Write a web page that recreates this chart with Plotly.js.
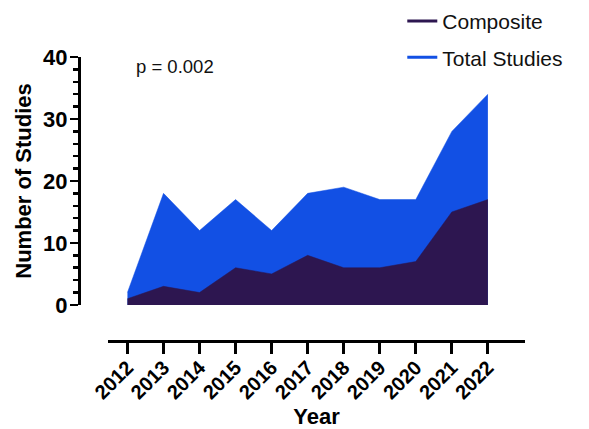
<!DOCTYPE html>
<html><head><meta charset="utf-8">
<script src="https://cdn.plot.ly/plotly-3.0.1.min.js"></script>
<style>html,body{margin:0;padding:0;background:#fff}#chart{width:589px;height:429px}</style>
</head><body><div id="chart"></div>
<script>
const years = [2012, 2013, 2014, 2015, 2016, 2017, 2018, 2019, 2020, 2021, 2022];
const totalStudies = [2, 18, 12, 17, 12, 18, 19, 17, 17, 28, 34];
const composite = [1, 3, 2, 6, 5, 8, 6, 6, 7, 15, 17];
const seriesNames = ['Composite', 'Total Studies'];
const yTicks = [0, 10, 20, 30, 40];

const blue = '#1250e4';
const purple = '#2d1650';
const FONT = 'Liberation Sans, Arial, Helvetica, sans-serif';

const traces = [
  {x: years, y: totalStudies, type: 'scatter', mode: 'lines', fill: 'tozeroy',
   fillcolor: blue, line: {color: blue, width: 0.5}, showlegend: false, hoverinfo: 'x+y'},
  {x: years, y: composite, type: 'scatter', mode: 'lines', fill: 'tozeroy',
   fillcolor: purple, line: {color: purple, width: 0.5}, showlegend: false, hoverinfo: 'x+y'},
  {x: [null], y: [null], type: 'scatter', mode: 'lines', name: seriesNames[0],
   line: {color: purple, width: 3}, legendgroup: 'a'},
  {x: [null], y: [null], type: 'scatter', mode: 'lines', name: seriesNames[1],
   line: {color: blue, width: 3}, legendgroup: 'b'}
];

const layout = {
  width: 589, height: 429,
  margin: {l: 79, r: 64, t: 57, b: 88, autoexpand: false},
  paper_bgcolor: '#fff', plot_bgcolor: 'rgba(0,0,0,0)',
  font: {family: FONT, color: '#000'},
  showlegend: true,
  legend: {xref: 'container', yref: 'container', x: 0.683, y: 0.998, xanchor: 'left', yanchor: 'top', tracegroupgap: 6,
           font: {family: FONT, size: 21, color: '#111'}, bgcolor: 'rgba(0,0,0,0)'},
  xaxis: {
    domain: [0.065, 1], range: [2011.46, 2023.03],
    anchor: 'free', position: 0,
    tickvals: years, ticktext: years.map(String), tickangle: -45,
    ticks: 'outside', ticklen: 11, tickwidth: 3, tickcolor: '#000',
    showline: true, linewidth: 3, linecolor: '#000', showgrid: false, zeroline: false,
    tickfont: {family: FONT, size: 20, color: '#000', weight: 'bold'},
    ticklabelstandoff: -6,
    title: {text: '<b>Year</b>', font: {family: FONT, size: 22, color: '#000'}, standoff: 29},
    automargin: false
  },
  yaxis: {
    domain: [0.127, 1], range: [0, 40],
    anchor: 'free', position: 0,
    tickvals: yTicks, ticks: 'outside', ticklen: 8, tickwidth: 2.5, tickcolor: '#000',
    minor: {dtick: 2, ticks: 'outside', ticklen: 5, tickwidth: 2.5, tickcolor: '#000', showgrid: false},
    showline: true, linewidth: 3, linecolor: '#000', showgrid: false, zeroline: false,
    tickfont: {family: FONT, size: 22, color: '#000', weight: 'bold'},
    ticklabelstandoff: -2,
    title: {text: '<b>Number of Studies</b>', font: {family: FONT, size: 22, color: '#000'}, standoff: 4},
    automargin: false
  },
  annotations: [
    {text: 'p = 0.002', xref: 'paper', yref: 'paper', x: 0.215, y: 0.965, xanchor: 'center', yanchor: 'middle',
     showarrow: false, font: {family: FONT, size: 18.5, color: '#111'}}
  ]
};

Plotly.newPlot('chart', traces, layout, {displayModeBar: false, staticPlot: true});
</script>
</body></html>
